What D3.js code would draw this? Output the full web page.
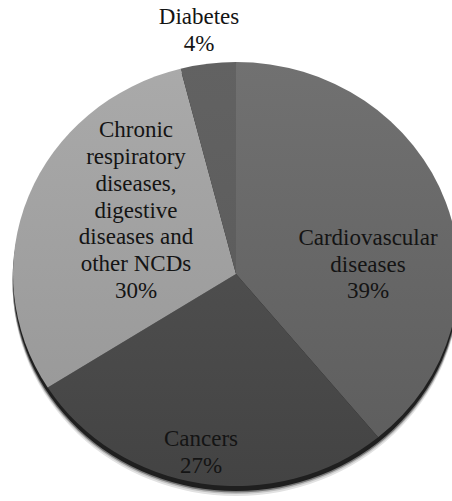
<!DOCTYPE html>
<html><head><meta charset="utf-8"><script src="https://cdn.jsdelivr.net/npm/d3@7/dist/d3.min.js"></script>
<style>
  body { margin: 0; }
  #wrap { position: relative; width: 452px; height: 501px; }
  #chart { position: absolute; left: 0; top: 0; }
  .lbl { position: absolute; width: 200px; margin-left: -100px; text-align: center;
         font-family: "Liberation Serif", Tinos, "Times New Roman", serif;
         font-size: 23px; line-height: 26.8px; color: #141414; white-space: nowrap; }
</style>
</head>
<body>
<div id="wrap"><svg id="chart" width="452" height="501"></svg></div>
<script>
// Share of NCD deaths by cause
const categories = [
  "Cardiovascular diseases",
  "Cancers",
  "Chronic respiratory diseases, digestive diseases and other NCDs",
  "Diabetes"
];
const values = [39, 27, 30, 4];

// Wrapped label lines for each slice
const labelLines = [
  ["Cardiovascular", "diseases"],
  ["Cancers"],
  ["Chronic", "respiratory", "diseases,", "digestive", "diseases and", "other NCDs"],
  ["Diabetes"]
];

// Slice shading: top and bottom tone of a vertical gradient
const sliceTones = [
  ["#717171", "#5c5c5c"],
  ["#585858", "#434343"],
  ["#aaaaaa", "#959595"],
  ["#626262", "#585858"]
];

const cx = 236, cy = 274;
const ry = 212, rx = 223;          // slightly wider than tall
const sx = rx / ry;

const svg = d3.select("#chart");
const defs = svg.append("defs");

sliceTones.forEach((t, i) => {
  const g = defs.append("linearGradient")
    .attr("id", "tone" + i)
    .attr("gradientUnits", "userSpaceOnUse")
    .attr("x1", 0).attr("y1", -ry).attr("x2", 0).attr("y2", ry);
  g.append("stop").attr("offset", "0%").attr("stop-color", t[0]);
  g.append("stop").attr("offset", "100%").attr("stop-color", t[1]);
});

const pie = d3.pie().sort(null).value(d => d)
  .startAngle(0).endAngle(2 * Math.PI);
const arcs = pie(values);
const arc = d3.arc().innerRadius(0).outerRadius(ry);

// Soft shadow rings and dark rim beneath the disc
[[10, "#e2e2e2"], [8, "#bdbdbd"], [6.5, "#777"]].forEach(([dy, c]) => {
  svg.append("ellipse")
    .attr("cx", cx).attr("cy", cy + dy)
    .attr("rx", rx + 0.5).attr("ry", ry)
    .attr("fill", c);
});
svg.append("ellipse")
  .attr("cx", cx).attr("cy", cy + 5)
  .attr("rx", rx).attr("ry", ry)
  .attr("fill", "#1f1f1f");

const disc = svg.append("g")
  .attr("transform", `translate(${cx},${cy}) scale(${sx},1)`);

disc.selectAll("path.slice")
  .data(arcs)
  .join("path")
  .attr("class", "slice")
  .attr("d", arc)
  .attr("fill", (d, i) => `url(#tone${i})`);

// Label block centres relative to the disc centre
const labelAnchor = [
  [132, -9],
  [-35, 179],
  [-100, -63],
  [-37, -243]
];
const lineH = 26.8;

d3.select("#wrap").selectAll("div.lbl")
  .data(arcs)
  .join("div")
  .attr("class", "lbl")
  .style("left", (d, i) => (cx + labelAnchor[i][0]) + "px")
  .style("top", (d, i) => {
    const n = labelLines[i].length + 1;
    return (cy + labelAnchor[i][1] - n * lineH / 2) + "px";
  })
  .html((d, i) => labelLines[i].concat([d3.format(".0f")(d.data) + "%"]).join("<br>"));
</script></body></html>
